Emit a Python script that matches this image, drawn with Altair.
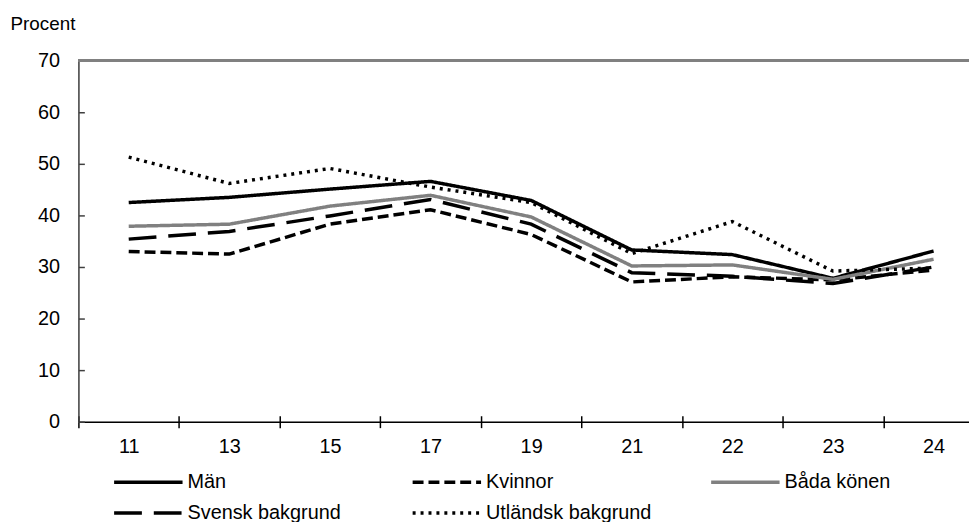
import altair as alt
import pandas as pd

categories = ["11", "13", "15", "17", "19", "21", "22", "23", "24"]
series_names = ["Män", "Kvinnor", "Båda könen", "Svensk bakgrund", "Utländsk bakgrund"]
man = [42.5, 43.5, 45.1, 46.6, 42.9, 33.3, 32.4, 27.8, 33.1]
kvinnor = [33.0, 32.5, 38.3, 41.1, 36.3, 27.1, 28.1, 27.5, 29.4]
bada = [37.9, 38.3, 41.8, 43.9, 39.7, 30.2, 30.4, 27.6, 31.5]
svensk = [35.4, 36.9, 39.9, 43.1, 38.3, 28.9, 28.2, 26.8, 30.0]
utlandsk = [51.3, 46.2, 49.1, 45.5, 42.5, 32.6, 38.8, 29.2, 29.8]
y_ticks = [0, 10, 20, 30, 40, 50, 60, 70]

colors = ["#000000", "#000000", "#808080", "#000000", "#000000"]
dashes = [[1, 0], [11, 5], [1, 0], [28, 12], [3, 5]]

rows = []
for name, vals in zip(series_names, [man, kvinnor, bada, svensk, utlandsk]):
    for c, v in zip(categories, vals):
        rows.append({"Ålder": c, "Serie": name, "Procent": v})
df = pd.DataFrame(rows)

FONT = "Liberation Sans"

legend = alt.Legend(
    title=None, orient="none", legendX=34, legendY=415, direction="horizontal",
    columns=3, gridAlign="all", columnPadding=58, rowPadding=11,
    symbolType="stroke", symbolSize=4761, symbolStrokeWidth=3.5, clipHeight=20,
    labelFontSize=20, labelFont=FONT, labelColor="#000000", labelOffset=3,
    labelLimit=300, padding=0,
)

x_scale = alt.Scale(domain=categories, range=[0, 913], paddingInner=0, paddingOuter=0)
y_scale = alt.Scale(domain=[0, 70], nice=False, zero=True)

y_axis = alt.Axis(values=y_ticks, title="Procent", titleAngle=0, titleX=-69, titleY=-31,
                  titleAlign="left", titleBaseline="alphabetic", titleFontSize=19,
                  titleFontWeight="normal", titleFont=FONT, titleColor="#000000",
                  tickSize=alt.ExprRef("-6"), labelPadding=25, grid=False,
                  labelFont=FONT, labelFontSize=20, labelColor="#000000",
                  domainColor="#404040", tickColor="#404040", domainWidth=1.5, tickWidth=1.5)

lines = alt.Chart(df).mark_line(strokeWidth=3.5, strokeJoin="miter").encode(
    x=alt.X("Ålder:N", sort=categories, scale=x_scale,
            axis=alt.Axis(title=None, orient="bottom", tickBand="extent", tickSize=6,
                          labelPadding=9, labelAngle=0, grid=False,
                          labelFont=FONT, labelFontSize=20, labelColor="#000000",
                          domainColor="#000000", tickColor="#000000", domainWidth=1.5, tickWidth=1.5)),
    y=alt.Y("Procent:Q", scale=y_scale, axis=y_axis),
    color=alt.Color("Serie:N", sort=series_names,
                    scale=alt.Scale(domain=series_names, range=colors), legend=legend),
    strokeDash=alt.StrokeDash("Serie:N", sort=series_names,
                              scale=alt.Scale(domain=series_names, range=dashes), legend=legend),
    order=alt.Order("Serie:N"),
)

ticks_in = alt.Chart(df).mark_rule(opacity=0).encode(
    x=alt.X("Ålder:N", sort=categories, scale=x_scale,
            axis=alt.Axis(title=None, orient="bottom", tickBand="extent",
                          tickSize=alt.ExprRef("-6"), labels=False, domain=False, grid=False,
                          tickColor="#000000", tickWidth=1.5)),
)

top_line = alt.Chart(df).mark_rule(color="#808080", strokeWidth=2).encode(
    y=alt.datum(70, axis=y_axis)
)

chart = alt.layer(lines, ticks_in, top_line).resolve_axis(x="independent").properties(
    width=898, height=364,
    autosize=alt.AutoSizeParams(type="none"),
    padding={"left": 71, "top": 51, "right": 0, "bottom": 99},
).configure_view(stroke=None).configure(font=FONT)

chart.save("out.html", embed_options={"renderer": "svg", "actions": False})
